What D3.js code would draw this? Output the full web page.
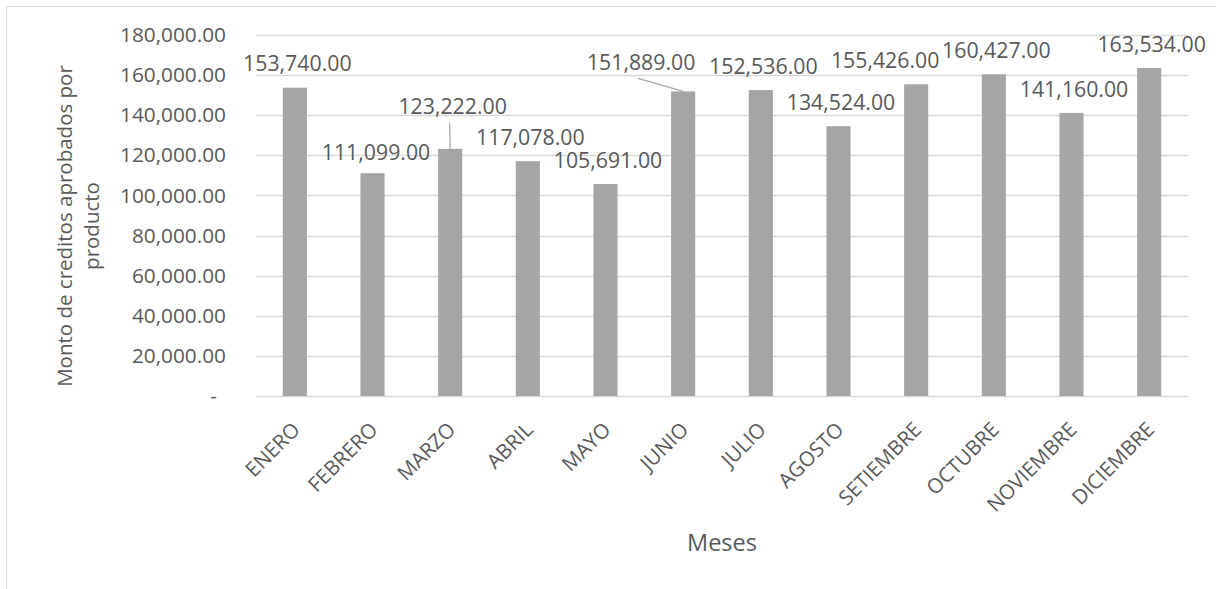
<!DOCTYPE html>
<html>
<head>
<meta charset="utf-8">
<script src="https://cdn.jsdelivr.net/npm/d3@7"></script>
<style>
  html, body { margin: 0; padding: 0; background: #fff; }
  svg { display: block; }
  text { font-family: "Open Sans", "Liberation Sans", sans-serif; fill: #595959; }
</style>
</head>
<body>
<svg id="chart" width="1216" height="589"></svg>
<script>
// ---- data ----
const months = ["ENERO","FEBRERO","MARZO","ABRIL","MAYO","JUNIO","JULIO","AGOSTO","SETIEMBRE","OCTUBRE","NOVIEMBRE","DICIEMBRE"];
const montos = [153740, 111099, 123222, 117078, 105691, 151889, 152536, 134524, 155426, 160427, 141160, 163534];
const yTicks = [0, 20000, 40000, 60000, 80000, 100000, 120000, 140000, 160000, 180000];
const yTitleLines = ["Monto de creditos aprobados por", "producto"];
const xTitle = "Meses";

// manual label nudges (pixels), as in the reference layout
const labelNudge = { FEBRERO: [1, 3], MARZO: [0, -18.5], JUNIO: [-44.5, -5], SETIEMBRE: [-33.5, 0] };
const leaderFor = ["MARZO", "JUNIO"];

// ---- layout ----
const W = 1216, H = 589;
const svg = d3.select("#chart");
const plot = { left: 256, right: 1188, top: 35, bottom: 396 };

svg.append("rect").attr("width", W).attr("height", H).attr("fill", "#fff");
// chart area border (cropped at right/bottom)
svg.append("rect").attr("x", 6.5).attr("y", 6.5).attr("width", W + 20).attr("height", H + 20)
  .attr("fill", "none").attr("stroke", "#D9D9D9").attr("stroke-width", 1);

const x = d3.scaleBand().domain(months).range([plot.left, plot.right]).paddingInner(0.69).paddingOuter(0.345);
const y = d3.scaleLinear().domain([0, 180000]).range([plot.bottom, plot.top]);

const fmt = d3.format(",.2f");
const fs = 20.5;
const fsNum = 21.3;

// gridlines
svg.append("g").selectAll("line").data(yTicks).join("line")
  .attr("x1", plot.left).attr("x2", plot.right)
  .attr("y1", d => Math.round(y(d)) + 0.5).attr("y2", d => Math.round(y(d)) + 0.5)
  .attr("stroke", "#D9D9D9").attr("stroke-width", 1.3);

// y axis labels
const yAxis = d3.axisLeft(y).tickValues(yTicks).tickSize(0).tickPadding(0)
  .tickFormat(d => d === 0 ? "-" : fmt(d));
const gy = svg.append("g").attr("transform", `translate(226,0)`).call(yAxis);
gy.select(".domain").remove();
gy.selectAll("text").attr("font-size", 20.8).attr("fill", "#595959")
  .attr("font-family", '"Open Sans", sans-serif')
  .attr("dx", d => d === 0 ? -9 : 0);

// bars
svg.append("g").selectAll("rect").data(months).join("rect")
  .attr("x", d => x(d)).attr("width", x.bandwidth())
  .attr("y", (d, i) => y(montos[i])).attr("height", (d, i) => y(0) - y(montos[i]))
  .attr("fill", "#A5A5A5");

// data labels
const labelPos = months.map((m, i) => {
  const n = labelNudge[m] || [0, 0];
  return { m, v: montos[i], cx: x(m) + x.bandwidth() / 2 + 2.5 + n[0], cy: y(montos[i]) - 24 + n[1] };
});
svg.append("g").selectAll("line").data(labelPos.filter(p => leaderFor.includes(p.m))).join("line")
  .attr("x1", p => p.cx - 3).attr("y1", p => p.cy + 16)
  .attr("x2", p => x(p.m) + x.bandwidth() / 2).attr("y2", p => y(p.v))
  .attr("stroke", "#A6A6A6").attr("stroke-width", 1.2);
svg.append("g").selectAll("text").data(labelPos).join("text")
  .attr("x", p => p.cx).attr("y", p => p.cy).attr("dy", "0.36em")
  .attr("text-anchor", "middle").attr("font-size", fsNum)
  .text(p => fmt(p.v));

// x labels
svg.append("g").selectAll("text").data(months).join("text")
  .attr("transform", d => `translate(${x(d) + x.bandwidth() / 2 + 6.5},431) rotate(-45)`)
  .attr("text-anchor", "end").attr("font-size", fs)
  .text(d => d);

// x title
svg.append("text").attr("x", (plot.left + plot.right) / 2).attr("y", 543).attr("dy", "0.36em")
  .attr("text-anchor", "middle").attr("font-size", 23.5).text(xTitle);

// y title
const yt = svg.append("text").attr("transform", "translate(65,226) rotate(-90)")
  .attr("text-anchor", "middle").attr("font-size", fs);
yTitleLines.forEach((t, i) => {
  yt.append("tspan").attr("x", 0).attr("y", i * 27).attr("dy", "0.36em").text(t);
});
</script>
</body>
</html>
